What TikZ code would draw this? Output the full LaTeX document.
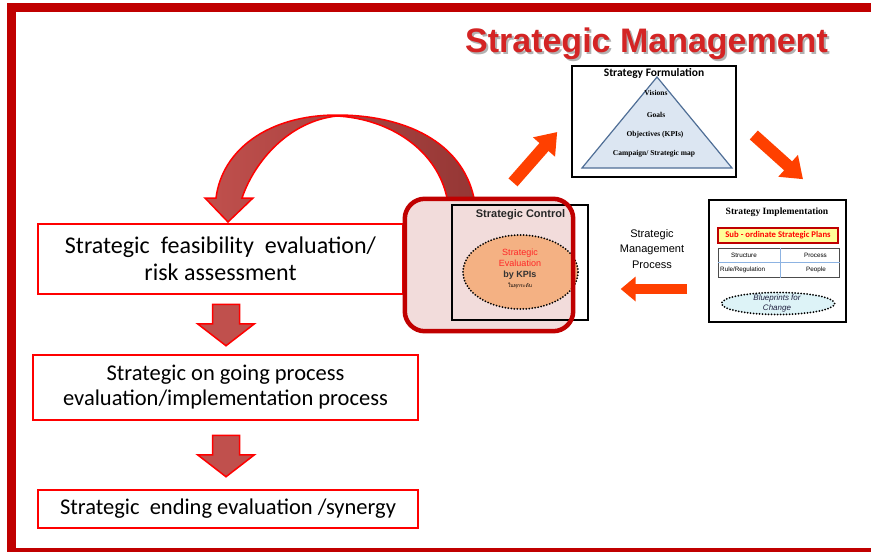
\documentclass[tikz,border=0pt]{standalone}
\usepackage{fontspec}
\usetikzlibrary{arrows.meta,calc,shapes.geometric,shadings}
\newfontfamily\calfont{Carlito}
\newfontfamily\arfont{Liberation Sans}
\newfontfamily\serfont{Liberation Serif}
\newfontfamily\thaifont[Script=Thai]{Loma}
\definecolor{framered}{HTML}{C00000}
\definecolor{boxred}{HTML}{FF0000}
\definecolor{blockfill}{HTML}{C0504D}
\definecolor{blockdark}{HTML}{953735}
\definecolor{orangearrow}{HTML}{FF4000}
\definecolor{pinkfill}{HTML}{F2DCDB}
\definecolor{tanfill}{HTML}{F4B183}
\definecolor{trifill}{HTML}{DCE6F2}
\definecolor{tristroke}{HTML}{4F6E96}
\definecolor{cyanfill}{HTML}{DDF3F7}
\definecolor{titlered}{HTML}{D42424}
\definecolor{gridblue}{HTML}{8DB3E2}
\definecolor{subyellow}{HTML}{FFFF99}
\definecolor{navytext}{HTML}{1F1F3F}
\begin{document}
\begin{tikzpicture}[x=1pt,y=-1pt,
  leftbox/.style={draw=boxred, line width=2.5pt, fill=white, inner ysep=0pt,
    font=\calfont\fontsize{22.5}{25}\selectfont},
  downarrow/.style={draw=boxred, line width=1.5pt, fill=blockfill, line join=miter},
  orarrow/.style={draw=orangearrow, line width=12pt, -{Triangle[length=20pt,width=28pt]}},
  blackbox/.style={draw=black, line width=1.6pt, inner sep=0pt},
  dotline/.style={line width=2pt, dash pattern=on 0pt off 3pt, line cap=round},
  plain/.style={inner sep=0pt}]
\useasboundingbox (0,0) rectangle (871,552);
% frame
\fill[framered] (7,3) rectangle (871,12);
\fill[framered] (7,3) rectangle (16,552);
\fill[framered] (7,548) rectangle (871,552);
% title with soft shadow
\node[plain, anchor=base, text=titlered, font=\arfont\bfseries\fontsize{34}{36}\selectfont] (title) at (646.5,52)
  {\rlap{\hspace{2pt}\raisebox{-2.5pt}{\textcolor{black!30}{Strategic Management}}}Strategic Management};
% strategy formulation
\node[blackbox, minimum width=164pt, minimum height=111pt] (form) at (654,121.5) {};
\draw[tristroke, fill=trifill, line width=1.2pt] (657,77) -- (732,168) -- (582,168) -- cycle;
\node[plain, font=\calfont\bfseries\fontsize{11.5}{13}\selectfont] (formtitle) at (654,73) {Strategy Formulation};
\node[plain, font=\serfont\bfseries\fontsize{7.5}{8}\selectfont] (vis) at (656,93) {Visions};
\node[plain, font=\serfont\bfseries\fontsize{7.5}{8}\selectfont] (goal) at (656,115) {Goals};
\node[plain, font=\serfont\bfseries\fontsize{7.5}{8}\selectfont] (obj) at (655,135) {Objectives (KPIs)};
\node[plain, font=\serfont\bfseries\fontsize{7.5}{8}\selectfont] (camp) at (654,154) {Campaign/ Strategic map};
% strategy implementation
\node[blackbox, minimum width=137pt, minimum height=122pt] (impl) at (777.5,261) {};
\node[plain, font=\serfont\bfseries\fontsize{9.6}{11}\selectfont] (impltitle) at (777,212) {Strategy Implementation};
\node[draw=framered, line width=1.8pt, fill=subyellow, minimum width=120pt, minimum height=15pt, inner sep=0pt,
  text=boxred, font=\calfont\bfseries\fontsize{8.7}{10}\selectfont] (sub) at (778,235.5) {Sub - ordinate Strategic Plans};
\node[draw=black!70, line width=1pt, minimum width=121pt, minimum height=29pt, inner sep=0pt] (tbl) at (778.5,262.5) {};
\draw[gridblue, line width=0.8pt] (tbl.west) -- (tbl.east);
\draw[gridblue, line width=0.8pt] ($(tbl.north west)+(63,0)$) -- ($(tbl.south west)+(63,0)$);
\node[plain, anchor=west, font=\arfont\fontsize{6.3}{7}\selectfont] (c11) at (731,255) {Structure};
\node[plain, anchor=east, font=\arfont\fontsize{6.3}{7}\selectfont] (c12) at (827,255) {Process};
\node[plain, anchor=west, font=\arfont\fontsize{6.3}{7}\selectfont] (c21) at (720,270) {Rule/Regulation};
\node[plain, anchor=east, font=\arfont\fontsize{6.3}{7}\selectfont] (c22) at (826,270) {People};
\node[ellipse, draw=black, dotline, fill=cyanfill, minimum width=113pt, minimum height=22pt, inner sep=0pt] (blue) at (778,303.5) {};
\node[plain, align=center, text=navytext, font=\arfont\itshape\fontsize{8}{9.5}\selectfont] (bluetxt) at (777,303.5) {Blueprints for\\Change};
% process label
\node[plain, align=center, font=\arfont\fontsize{11}{15.5}\selectfont] (smp) at (652,249) {Strategic\\Management\\Process};
% left boxes
\node[leftbox, font=\calfont\fontsize{24}{26.5}\selectfont, minimum width=365pt, minimum height=70pt, align=center] (b1) at (220.5,259) {Strategic\hspace{11pt}feasibility\hspace{11pt}evaluation/\\risk assessment};
\node[leftbox, minimum width=385pt, minimum height=65pt, align=center] (b2) at (225.5,387.5) {Strategic on going process\\evaluation/implementation process};
\node[leftbox, minimum width=380pt, minimum height=38pt, align=center] (b3) at (228,509) {Strategic\ \ ending evaluation /synergy};
% down block arrows
\coordinate (d1s) at ($(b1.south)+(5.5,9)$);
\coordinate (d1e) at ($(b2.north)+(0.5,-8)$);
\coordinate (d2s) at ($(b2.south)+(0.5,14)$);
\coordinate (d2e) at ($(b3.north)+(-2,-12)$);
\draw[downarrow] ($(d1s)+(-13.5,0)$) -- ($(d1s)+(13.5,0)$) -- ($(d1e)+(13.5,-22)$) -- ($(d1e)+(28.5,-22)$) -- (d1e) -- ($(d1e)+(-28.5,-22)$) -- ($(d1e)+(-13.5,-22)$) -- cycle;
\draw[downarrow] ($(d2s)+(-13.5,0)$) -- ($(d2s)+(13.5,0)$) -- ($(d2e)+(13.5,-22)$) -- ($(d2e)+(28.5,-22)$) -- (d2e) -- ($(d2e)+(-28.5,-22)$) -- ($(d2e)+(-13.5,-22)$) -- cycle;
% rounded overlay (fill)
\node[fill=pinkfill, rounded corners=20pt, minimum width=168pt, minimum height=132pt, inner sep=0pt] (rr) at (489,265) {};
% strategic control
\node[blackbox, line width=1.3pt, minimum width=136pt, minimum height=115pt] (ctrl) at (520,262.5) {};
\node[plain, font=\arfont\bfseries\fontsize{11}{12}\selectfont, text=black!85] (ctrltitle) at (520.5,215) {Strategic Control};
\node[ellipse, draw=black, dotline, fill=tanfill, minimum width=115pt, minimum height=74pt, inner sep=0pt] (eval) at (520.5,272) {};
\node[plain, align=center, font=\arfont\fontsize{9}{11}\selectfont] (evaltxt) at (520,268.5)
  {\textcolor{boxred!85!white}{Strategic}\\\textcolor{boxred!85!white}{Evaluation}\\\textcolor{black!80}{\bfseries by KPIs}\\[-1pt]{\thaifont\fontsize{5}{6}\selectfont ในทุกระดับ}};
% curved return arrow
\shadedraw[left color=blockfill, right color=blockdark, draw=boxred, line width=1.5pt, line join=miter]
  (474,198) .. controls (462,142) and (405,115) .. (337,115)
  .. controls (268,115) and (222,150) .. (216,198)
  -- (205,198) -- (228,222) -- (253,198) -- (242,198)
  .. controls (255,160) and (290,121) .. (337,116)
  .. controls (390,119) and (437,150) .. (447,198) -- cycle;
% overlay border
\draw[framered, line width=4.5pt, rounded corners=20pt] (rr.north west) rectangle (rr.south east);
% orange arrows
\coordinate (oa1s) at ($(ctrl.north)+(-7,-22)$);
\coordinate (oa1e) at ($(form.west)+(-14,10.5)$);
\coordinate (oa2s) at ($(form.east)+(17,13.5)$);
\coordinate (oa2e) at ($(impl.north)+(25.5,-20)$);
\coordinate (oa3s) at ($(impl.west)+(-21,28)$);
\coordinate (oa3e) at ($(ctrl.east)+(32,26.5)$);
\draw[orarrow] (oa1s) -- (oa1e);
\draw[orarrow] (oa2s) -- (oa2e);
\draw[orarrow, line width=10.5pt, -{Triangle[length=15pt,width=24pt]}] (oa3s) -- (oa3e);
\end{tikzpicture}
\end{document}
